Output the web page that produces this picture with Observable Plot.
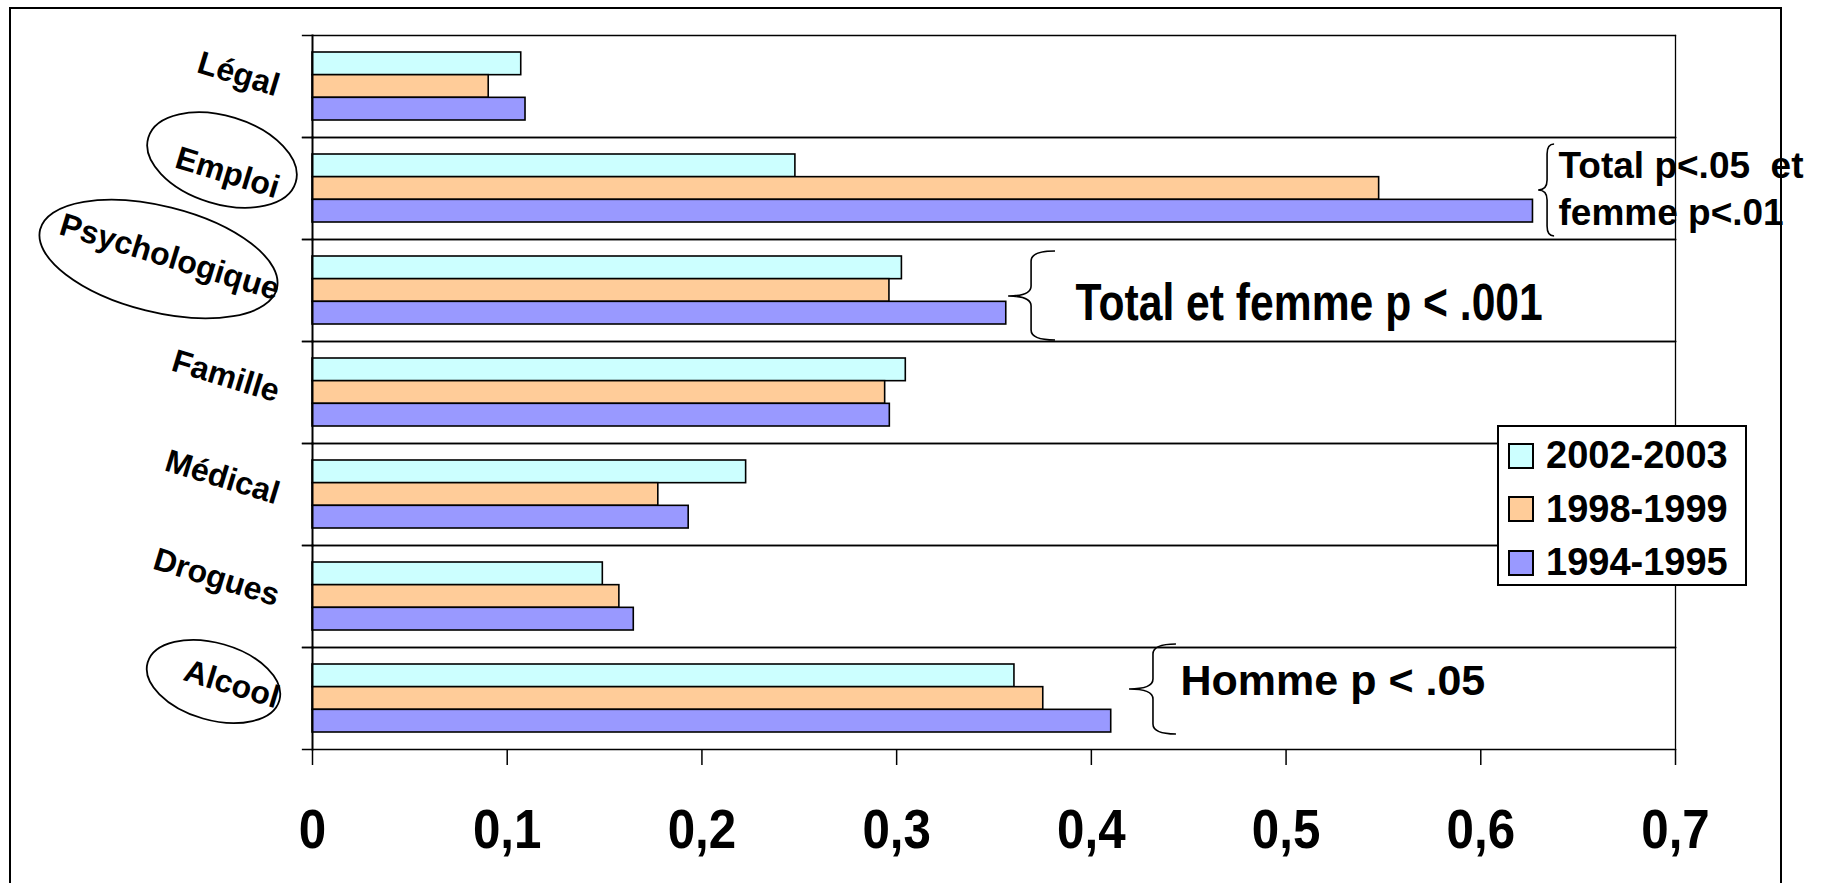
<!DOCTYPE html>
<html><head><meta charset="utf-8">
<script src="https://cdn.jsdelivr.net/npm/d3@7"></script>
<script src="https://cdn.jsdelivr.net/npm/@observablehq/plot@0.6"></script>
<style>
html,body{margin:0;padding:0;background:#fff;overflow:hidden;}
#wrap{position:relative;width:1822px;height:883px;}
#chart{position:absolute;left:0;top:0;}
#border{position:absolute;left:9px;top:7px;width:1773px;height:1000px;border:2px solid #000;box-sizing:border-box;pointer-events:none;}
#legend{position:absolute;left:1497px;top:425px;width:250px;height:161px;border:2px solid #000;box-sizing:border-box;background:#fff;}
#legend .lg-swatches{margin:0 !important;padding:2px 0 0 10px !important;font-family:"Liberation Sans",Arial,sans-serif !important;font-size:38px !important;font-weight:bold !important;color:#000 !important;}
#legend .lg-swatch{height:53.5px !important;padding:0 !important;display:flex !important;align-items:center !important;}
#legend .lg-swatch svg{margin-right:13px !important;overflow:visible !important;}
#legend .lg-swatch svg rect{stroke:#000;stroke-width:2px;}
</style></head><body>
<div id="wrap"><div id="chart"></div><div id="border"></div><div id="legend"></div></div>
<script>
const categories = ["Légal","Emploi","Psychologique","Famille","Médical","Drogues","Alcool"];
const periods = ["2002-2003","1998-1999","1994-1995"];
const colors = ["#CCFFFF","#FFCC99","#9999FF"];
const v2002 = [0.1072,0.2480,0.3027,0.3047,0.2227,0.1491,0.3605];
const v1998 = [0.0905,0.5478,0.2963,0.2941,0.1776,0.1576,0.3753];
const v1994 = [0.1094,0.6268,0.3563,0.2965,0.1932,0.1650,0.4102];
const xTicks = [0,0.1,0.2,0.3,0.4,0.5,0.6,0.7];
const noteCats = ["Emploi","Psychologique","Alcool"];
const noteX = [0.6399,0.3919,0.4458];
const noteTexts = ["Total p<.05\u00a0 et\nfemme p<.01","Total et femme p < .001","Homme p < .05"];
const braceTip = [0.6297,0.3575,0.4196];
const braceSpine = [0.6343,0.3693,0.4319];
const braceEnd = [0.6379,0.3816,0.4437];

const series = [v2002, v1998, v1994];
const rows = categories.flatMap((c,i) => periods.map((p,j) => ({cat:c, period:p, value:series[j][i]})));
const notes = noteCats.map((c,i) => ({cat:c, x:noteX[i], text:noteTexts[i]}));

const fmt = d3.formatLocale({decimal:",", thousands:" ", grouping:[3], currency:["",""]}).format("~g");
const SANS = "'Liberation Sans', Arial, sans-serif";

const plot = Plot.plot({
  width:1822, height:883,
  marginLeft:312, marginRight:147, marginTop:35, marginBottom:134,
  style:{background:"transparent", fontFamily:SANS, color:"#000", overflow:"visible"},
  x:{domain:[0,0.7], axis:null},
  y:{domain:periods, axis:null, paddingInner:0, paddingOuter:0.75, round:false},
  fy:{domain:categories, padding:0, axis:null, round:false},
  color:{domain:periods, range:colors},
  marks:[
    Plot.frame({anchor:"top", insetLeft:-10, stroke:"#000", strokeWidth:1.3}),
    Plot.frame({anchor:"bottom", insetLeft:-10, stroke:"#000", strokeWidth:1.3}),
    Plot.frame({anchor:"right", stroke:"#000", strokeWidth:1.3}),
    Plot.barX(rows, {fy:"cat", y:"period", x:"value", fill:"period", stroke:"#000", strokeWidth:1.6}),
    Plot.frame({anchor:"left", stroke:"#000", strokeWidth:2}),
    Plot.axisFy({anchor:"left", tickSize:0, tickPadding:34, tickRotate:17, textAnchor:"end", fontSize:32, fontWeight:"bold", label:null}),
    Plot.axisX({ticks:xTicks, tickFormat:fmt, tickSize:16, tickPadding:43, fontSize:56, fontWeight:"bold", label:null, strokeWidth:1.5}),
    Plot.text([notes[0]], {fy:"cat", x:"x", text:"text", textAnchor:"start", fontSize:37, fontWeight:"bold", lineHeight:1.26, dy:-2, fill:"#000"}),
    Plot.text([notes[1]], {fy:"cat", x:"x", text:"text", textAnchor:"start", fontSize:52, fontWeight:"bold", dy:13, fill:"#000"}),
    Plot.text([notes[2]], {fy:"cat", x:"x", text:"text", textAnchor:"start", fontSize:43, fontWeight:"bold", dy:-17, fill:"#000"})
  ]
});
document.getElementById("chart").appendChild(plot);

const svg = d3.select(plot);
// horizontally condense the tall text, as in the reference
function squeeze(el, k) {
  const t = el.getAttribute("transform") || "";
  const x = +el.getAttribute("x") || 0, y = +el.getAttribute("y") || 0;
  el.setAttribute("transform", `${t} translate(${x},${y}) scale(${k},1) translate(${-x},${-y})`);
}
const tickLabels = new Set(xTicks.map(fmt));
svg.selectAll("text").each(function() {
  const s = this.textContent;
  if (s === noteTexts[1]) squeeze(this, 0.82);
  else if (tickLabels.has(s) && this.closest("g[aria-label='x-axis tick label']")) squeeze(this, 0.88);
});

// annotations: ellipses around circled labels and curly braces
const fy = plot.scale("fy"), xs = plot.scale("x");
const bw = fy.bandwidth;
const g = svg.append("g").attr("fill","none").attr("stroke","#000").attr("stroke-width",1.8);
const ellipses = [
  {cat:"Emploi", cx:222, dy:-28, rx:77, ry:44, rot:17},
  {cat:"Psychologique", cx:158.5, dy:-31, rx:122, ry:53, rot:14},
  {cat:"Alcool", cx:213.5, dy:-16.5, rx:68.5, ry:38.5, rot:16}
];
ellipses.forEach(e => {
  const cy = fy.apply(e.cat) + bw/2 + e.dy;
  g.append("ellipse").attr("cx",e.cx).attr("cy",cy).attr("rx",e.rx).attr("ry",e.ry)
    .attr("transform",`rotate(${e.rot} ${e.cx} ${cy})`);
});
const braceV = [[7,53,99],[12,57,101],[-3,42,87]];
noteCats.forEach((c,i) => {
  const top = fy.apply(c);
  const xt = xs.apply(braceTip[i]), xsp = xs.apply(braceSpine[i]), xe = xs.apply(braceEnd[i]);
  const [a,m,b] = braceV[i].map(d => top + d);
  const r = 10;
  const d = `M${xe},${a} Q${xsp},${a} ${xsp},${a+r} L${xsp},${m-r} Q${xsp},${m} ${xt},${m} Q${xsp},${m} ${xsp},${m+r} L${xsp},${b-r} Q${xsp},${b} ${xe},${b}`;
  g.append("path").attr("d", d).attr("stroke-width",1.6);
});

const leg = Plot.legend({color:{domain:periods, range:colors}, legend:"swatches", columns:1, swatchSize:24, className:"lg"});
document.getElementById("legend").appendChild(leg);
</script>
</body></html>
